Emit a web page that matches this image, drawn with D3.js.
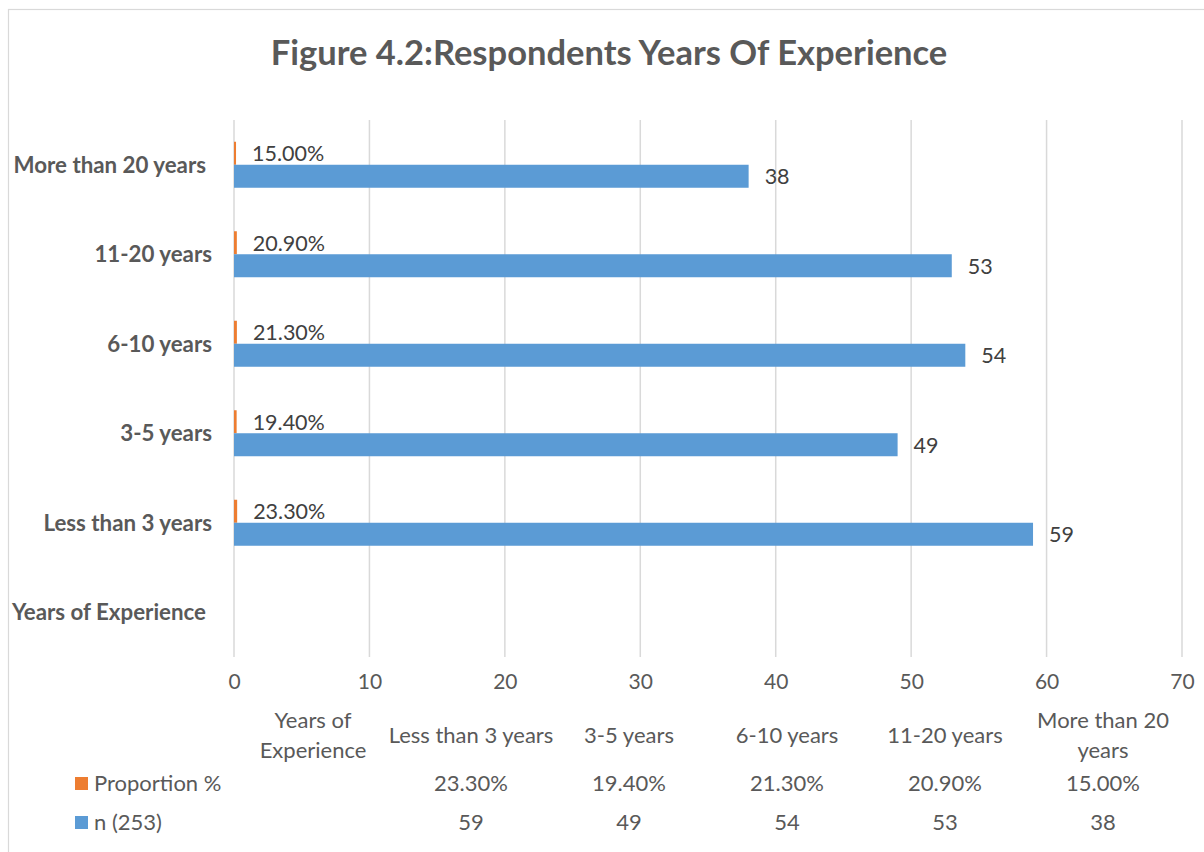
<!DOCTYPE html>
<html>
<head>
<meta charset="utf-8">
<script src="https://cdn.jsdelivr.net/npm/d3@7"></script>
<style>
  html, body { margin: 0; padding: 0; background: #fff; }
  svg { display: block; font-family: Lato, "Open Sans", sans-serif; }
  text { white-space: pre; }
</style>
</head>
<body>
<svg id="chart" width="1204" height="852"></svg>
<script>
// ---- data ----
const categories = ["Years of Experience", "Less than 3 years", "3-5 years", "6-10 years", "11-20 years", "More than 20 years"];
const tableHeaders = [["Years of", "Experience"], ["Less than 3 years"], ["3-5 years"], ["6-10 years"], ["11-20 years"], ["More than 20", "years"]];
const seriesNames = ["Proportion %", "n (253)"];
const proportionValues = [null, 0.233, 0.194, 0.213, 0.209, 0.150];
const proportionLabels = ["", "23.30%", "19.40%", "21.30%", "20.90%", "15.00%"];
const nValues = [null, 59, 49, 54, 53, 38];
const nLabels = ["", "59", "49", "54", "53", "38"];
const xTicks = [0, 10, 20, 30, 40, 50, 60, 70];
const colors = { "Proportion %": "#ed7d31", "n (253)": "#5b9bd5" };
const title = "Figure 4.2:Respondents Years Of Experience";

// ---- layout ----
const svg = d3.select("#chart");
const plot = { left: 234, right: 1182, top: 120, bottom: 657 };
const x = d3.scaleLinear().domain([0, 70]).range([plot.left, plot.right]);
const y = d3.scaleBand().domain(categories).range([plot.bottom, plot.top]);
const inner = d3.scaleBand().domain(seriesNames).range([0, 46]);
const barOffset = (y.bandwidth() - 46) / 2;

// border
svg.append("rect").attr("x", 8.5).attr("y", 9.5).attr("width", 1250).attr("height", 900)
  .attr("fill", "none").attr("stroke", "#d9d9d9").attr("stroke-width", 1.2);

// title
svg.append("text").attr("x", 609).attr("y", 65).attr("text-anchor", "middle")
  .attr("font-size", 34.5).attr("font-weight", "bold").attr("fill", "#595959").text(title);

// gridlines
svg.append("g").selectAll("line").data(xTicks).join("line")
  .attr("x1", d => x(d)).attr("x2", d => x(d))
  .attr("y1", plot.top).attr("y2", plot.bottom)
  .attr("stroke", "#d9d9d9").attr("stroke-width", 1.5);

// x axis labels
const xAxis = d3.axisBottom(x).tickValues(xTicks).tickSize(0).tickPadding(0);
const gx = svg.append("g").attr("transform", `translate(0, ${plot.bottom})`).call(xAxis);
gx.select(".domain").remove();
gx.selectAll("text").attr("y", 32).attr("dy", 0).attr("font-size", 21)
  .attr("fill", "#595959").attr("font-family", "Lato, sans-serif");

// y category labels
svg.append("g").selectAll("text").data(categories).join("text")
  .attr("x", (d, i) => (i === 0 || i === 5) ? 206 : 212)
  .attr("y", d => y(d) + y.bandwidth() / 2 + 8)
  .attr("text-anchor", "end").attr("font-size", 22.3).attr("font-weight", "bold")
  .attr("fill", "#595959").text(d => d);

// bars
const rows = categories.map((c, i) => ({ cat: c, i }));
const barG = svg.append("g");
const seriesData = [
  { name: "Proportion %", values: proportionValues, labels: proportionLabels },
  { name: "n (253)", values: nValues, labels: nLabels }
];
seriesData.forEach(s => {
  const pts = rows.filter(r => s.values[r.i] != null);
  barG.selectAll(null).data(pts).join("rect")
    .attr("x", x(0))
    .attr("y", r => y(r.cat) + barOffset + inner(s.name))
    .attr("width", r => x(s.values[r.i]) - x(0))
    .attr("height", inner.bandwidth())
    .attr("fill", colors[s.name]);
  barG.selectAll(null).data(pts).join("text")
    .attr("x", r => x(s.values[r.i]) + 16)
    .attr("y", r => y(r.cat) + barOffset + inner(s.name) + inner.bandwidth() / 2 + 8)
    .attr("font-size", 21.5).attr("fill", "#404040")
    .text(r => s.labels[r.i]);
});

// data table
const colW = (plot.right - plot.left) / categories.length;
const colX = i => plot.left + colW * (i + 0.5);
const th = svg.append("g");
tableHeaders.forEach((lines, i) => {
  const t = th.append("text").attr("text-anchor", "middle").attr("font-size", 22).attr("fill", "#595959");
  if (lines.length === 1) {
    t.append("tspan").attr("x", colX(i)).attr("y", 743).text(lines[0]);
  } else {
    t.append("tspan").attr("x", colX(i)).attr("y", 728).text(lines[0]);
    t.append("tspan").attr("x", colX(i)).attr("y", 758).text(lines[1]);
  }
});
const rowY = { "Proportion %": 791, "n (253)": 830 };
seriesData.forEach(s => {
  svg.append("g").selectAll("text").data(s.labels).join("text")
    .attr("x", (d, i) => colX(i)).attr("y", rowY[s.name])
    .attr("text-anchor", "middle").attr("font-size", 22).attr("fill", "#595959")
    .text(d => d);
  svg.append("rect").attr("x", 75).attr("y", rowY[s.name] - 14).attr("width", 13).attr("height", 13)
    .attr("fill", colors[s.name]);
  svg.append("text").attr("x", 94).attr("y", rowY[s.name]).attr("font-size", 22)
    .attr("fill", "#595959").text(s.name);
});
</script>
</body>
</html>
